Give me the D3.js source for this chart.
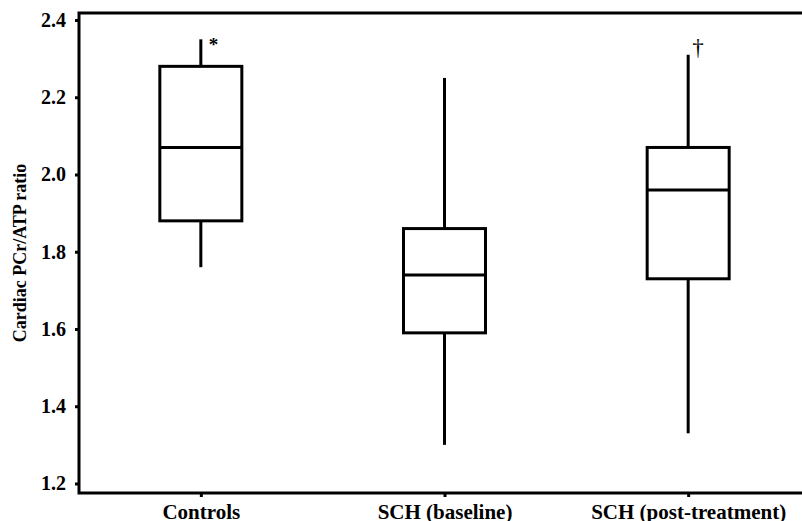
<!DOCTYPE html>
<html>
  <head>
    <meta http-equiv="Content-type" content="text/html; charset=utf-8">
    <title>Cardiac PCr/ATP ratio</title>
    <script src="https://d3js.org/d3.v7.min.js"></script>
    <style>
      body { margin: 0; background: #fff; }
      text { font-family: "Liberation Serif", "Times New Roman", serif; font-weight: bold; fill: #000; }
    </style>
  </head>
  <body>
    <div id="chart"></div>
    <script type="text/javascript">
      var groups = ["Controls", "SCH (baseline)", "SCH (post-treatment)"];
      var whiskerLow = [1.76, 1.30, 1.33];
      var q1 = [1.88, 1.59, 1.73];
      var median = [2.07, 1.74, 1.96];
      var q3 = [2.28, 1.86, 2.07];
      var whiskerHigh = [2.35, 2.25, 2.31];
      var marks = ["*", "", "\u2020"];
      var yTicks = [1.2, 1.4, 1.6, 1.8, 2.0, 2.2, 2.4];

      var width = 802,
        height = 521,
        plotLeft = 79,
        plotRight = 810,
        plotTop = 13,
        plotBottom = 493;

      var svg = d3.select("#chart").append("svg")
        .attr("width", width)
        .attr("height", height);

      var x = d3.scalePoint()
        .domain(groups)
        .range([plotLeft, plotRight])
        .padding(0.5);

      var y = d3.scaleLinear()
        .domain([1.2, 2.4])
        .range([483.5, 20]);

      var boxW = 82;

      // frame
      svg.append("rect")
        .attr("x", plotLeft)
        .attr("y", plotTop)
        .attr("width", plotRight - plotLeft)
        .attr("height", plotBottom - plotTop)
        .attr("fill", "none")
        .attr("stroke", "#000")
        .attr("stroke-width", 3);

      var yAxis = svg.append("g")
        .attr("transform", "translate(" + plotLeft + ",0)")
        .call(d3.axisLeft(y).tickValues(yTicks).tickSize(4).tickPadding(9).tickFormat(d3.format(".1f")));
      yAxis.select(".domain").remove();
      yAxis.selectAll("line").attr("stroke-width", 3);
      yAxis.selectAll("text").style("font-size", "20px").style("font-family", "Liberation Serif").attr("font-weight", "bold");

      var xAxis = svg.append("g")
        .attr("transform", "translate(0," + plotBottom + ")")
        .call(d3.axisBottom(x).tickSize(4).tickPadding(7));
      xAxis.select(".domain").remove();
      xAxis.selectAll("line").attr("stroke-width", 3);
      xAxis.selectAll("text").style("font-size", "21px").style("font-family", "Liberation Serif").attr("font-weight", "bold");

      var g = svg.selectAll(".box")
        .data(groups)
        .enter().append("g")
        .attr("class", "box");

      // whiskers
      g.append("line")
        .attr("x1", function(d) { return x(d); })
        .attr("x2", function(d) { return x(d); })
        .attr("y1", function(d, i) { return y(whiskerHigh[i]); })
        .attr("y2", function(d, i) { return y(q3[i]); })
        .attr("stroke", "#000").attr("stroke-width", 3);
      g.append("line")
        .attr("x1", function(d) { return x(d); })
        .attr("x2", function(d) { return x(d); })
        .attr("y1", function(d, i) { return y(q1[i]); })
        .attr("y2", function(d, i) { return y(whiskerLow[i]); })
        .attr("stroke", "#000").attr("stroke-width", 3);

      g.append("rect")
        .attr("x", function(d) { return x(d) - boxW / 2; })
        .attr("y", function(d, i) { return y(q3[i]); })
        .attr("width", boxW)
        .attr("height", function(d, i) { return y(q1[i]) - y(q3[i]); })
        .attr("fill", "#fff")
        .attr("stroke", "#000").attr("stroke-width", 3);

      g.append("line")
        .attr("x1", function(d) { return x(d) - boxW / 2; })
        .attr("x2", function(d) { return x(d) + boxW / 2; })
        .attr("y1", function(d, i) { return y(median[i]); })
        .attr("y2", function(d, i) { return y(median[i]); })
        .attr("stroke", "#000").attr("stroke-width", 3);

      // significance marks
      g.append("text")
        .attr("x", function(d, i) { return x(d) + (marks[i] === "*" ? 8 : 4); })
        .attr("y", function(d, i) { return y(whiskerHigh[i]) + (marks[i] === "*" ? 12 : 0); })
        .style("font-size", function(d, i) { return marks[i] === "*" ? "19px" : "23px"; })
        .style("font-weight", function(d, i) { return marks[i] === "*" ? "bold" : "normal"; })
        .text(function(d, i) { return marks[i]; });

      svg.append("text")
        .attr("transform", "translate(26," + ((plotTop + plotBottom) / 2) + ") rotate(-90)")
        .attr("text-anchor", "middle")
        .style("font-size", "18px")
        .text("Cardiac PCr/ATP ratio");
    </script>
  </body>
</html>
